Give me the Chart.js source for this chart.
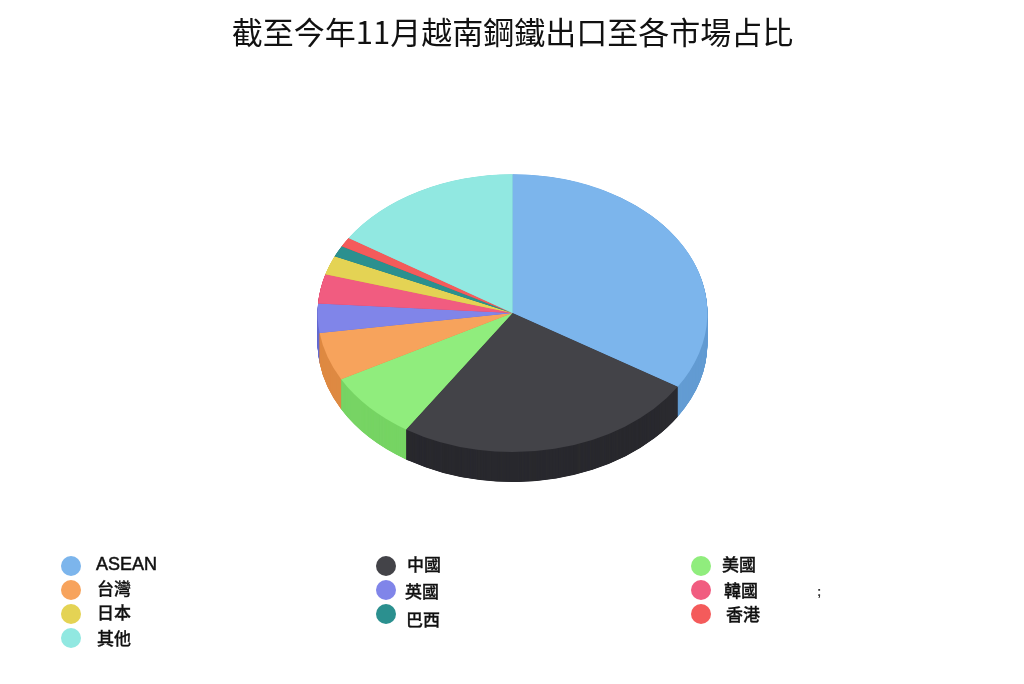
<!DOCTYPE html>
<html>
<head>
<meta charset="utf-8">
<title>越南鋼鐵出口</title>
<script src="https://cdn.jsdelivr.net/npm/chart.js@4/dist/chart.umd.min.js"></script>
<style>
	html, body { margin: 0; padding: 0; background: #fff; }
	#wrap { position: relative; width: 1024px; height: 684px; overflow: hidden; }
	#chart-share { position: absolute; left: 0; top: 0; }
	.dot { position: absolute; width: 20px; height: 20px; border-radius: 50%; }
	.label { position: absolute; font: 500 17px "Noto Sans CJK TC", "Liberation Sans", sans-serif; line-height: 20px; color: #111; white-space: nowrap; -webkit-text-stroke: 0.3px #111; }
	.label.latin { font: 500 18px "Liberation Sans", sans-serif; line-height: 20px; -webkit-text-stroke: 0.5px #111; }
	.speck { position: absolute; left: 817px; top: 584px; font: bold 13px "Liberation Sans", sans-serif; color: #333; }
</style>
</head>
<body>
<div id="wrap">
	<canvas id="chart-share" width="1024" height="684"></canvas>
	<div id="legend"></div>
	<div class="speck">;</div>
</div>
<script>
var chartTitle = "截至今年11月越南鋼鐵出口至各市場占比";
var markets = [ "ASEAN", "中國", "美國", "台灣", "英國", "韓國", "日本", "巴西", "香港", "其他" ];
var shares = [ 33.9, 25.3, 7.9, 5.6, 3.4, 3.4, 2.2, 1.3, 1.1, 15.9 ];
var colors = [ "#7cb5ec", "#434348", "#90ed7d", "#f7a35c", "#8085e9", "#f15c80", "#e4d354", "#2b908f", "#f45b5b", "#91e8e1" ];

/* Legend: dot centre x,y then text left,centre y, same order as markets */
var legendSpots = [
	[ 71, 566, 96, 564 ], [ 386, 566, 407, 564 ], [ 701, 566, 722, 564 ],
	[ 71, 590, 97, 588 ], [ 386, 590, 405, 591 ], [ 701, 590, 724, 590 ],
	[ 71, 614, 97, 612 ], [ 386, 614, 406, 619 ], [ 701, 614, 726, 614 ],
	[ 71, 638, 97, 638 ]
];

var squash = 139 / 195;
var depth = 30;

function darker( hex ) {
	var n = parseInt( hex.slice(1), 16 );
	var r = Math.max( (n >> 16) - 25, 0 ), g = Math.max( ((n >> 8) & 255) - 25, 0 ), b = Math.max( (n & 255) - 25, 0 );
	return "rgb(" + r + "," + g + "," + b + ")";
}

/* Squash the pie into an ellipse and stack darker copies below it for the side wall */
var tiltPlugin = {
	id: "tilt",
	beforeDatasetsDraw: function( chart ) {
		var ctx = chart.ctx;
		var arcs = chart.getDatasetMeta(0).data;
		var cx = arcs[0].x, cy = arcs[0].y;
		for ( var d = depth; d > 0; d -= 0.25 ) {
			ctx.save();
			ctx.translate( cx, cy + d );
			ctx.scale( 1, squash );
			arcs.forEach(function( arc, i ) {
				ctx.beginPath();
				ctx.moveTo( 0, 0 );
				ctx.arc( 0, 0, arc.outerRadius, arc.startAngle, arc.endAngle );
				ctx.closePath();
				ctx.fillStyle = darker( colors[i] );
				ctx.fill();
			});
			ctx.restore();
		}
		ctx.save();
		ctx.translate( cx, cy );
		ctx.scale( 1, squash );
		ctx.translate( -cx, -cy );
	},
	afterDatasetsDraw: function( chart ) {
		chart.ctx.restore();
	}
};

var ctxshare = document.getElementById("chart-share").getContext('2d');
var myChart = new Chart(ctxshare, {
	type: 'pie',
	data: {
		labels: markets,
		datasets: [{
			data: shares,
			backgroundColor: colors,
			borderWidth: 0,
			clip: false
		}]
	},
	options: {
		responsive: false,
		animation: false,
		layout: { padding: { left: 1, right: 0, top: 14, bottom: 176 } },
		plugins: {
			legend: { display: false },
			tooltip: { enabled: false },
			title: {
				display: true,
				text: chartTitle,
				color: '#111',
				font: { family: '"Noto Sans CJK TC", sans-serif', size: 31, weight: 'normal', lineHeight: 1.2 },
				padding: { top: 0, bottom: 67 }
			}
		}
	},
	plugins: [ tiltPlugin ]
});

/* Legend */

var legend = document.getElementById("legend");
markets.forEach(function( name, i ) {
	var spot = legendSpots[i];
	var dot = document.createElement("div");
	dot.className = "dot";
	dot.style.left = ( spot[0] - 10 ) + "px";
	dot.style.top = ( spot[1] - 10 ) + "px";
	dot.style.background = colors[i];
	legend.appendChild( dot );
	var label = document.createElement("div");
	label.className = name === "ASEAN" ? "label latin" : "label";
	label.style.left = spot[2] + "px";
	label.style.top = ( spot[3] - 10 ) + "px";
	label.textContent = name;
	legend.appendChild( label );
});
</script>
</body>
</html>
